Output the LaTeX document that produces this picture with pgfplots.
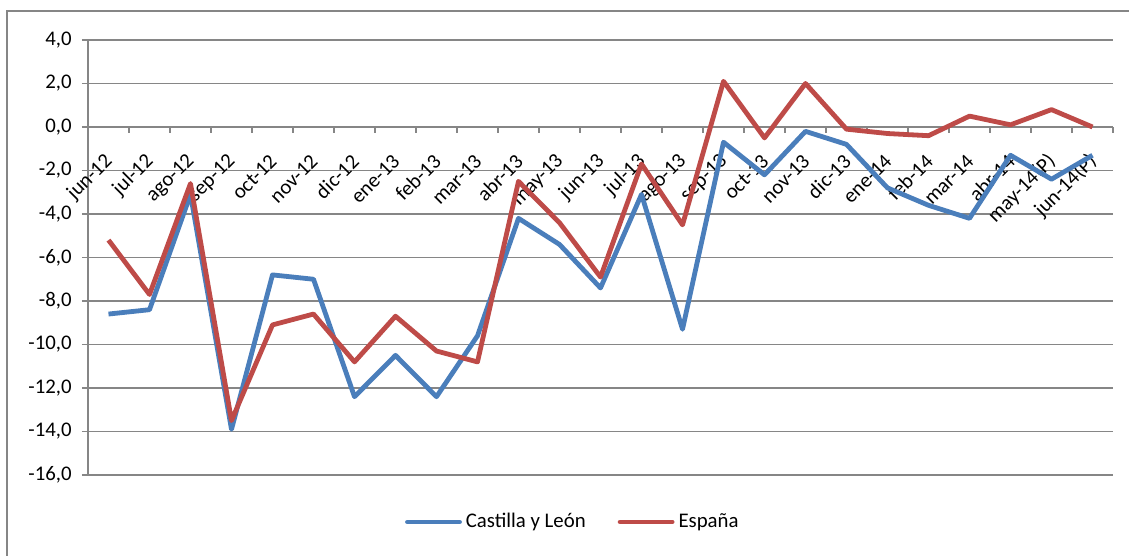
\documentclass[border=0pt]{standalone}
\usepackage{pgfplots}
\pgfplotsset{compat=1.18}
\usepackage{fontspec}
\setmainfont{Carlito}
\definecolor{cylblue}{RGB}{74,126,187}
\definecolor{espred}{RGB}{190,75,72}
\definecolor{gridgray}{RGB}{134,134,134}
\begin{document}
\begin{tikzpicture}
\path[use as bounding box] (0,0) rectangle (564.5pt,278pt);
\draw[gridgray, line width=0.65pt] (3.5pt,0pt) -- (3.5pt,272.5pt) -- (564.5pt,272.5pt);
\begin{axis}[
  at={(44pt,40.5pt)}, anchor=south west,
  scale only axis, width=512.5pt, height=217.5pt,
  xmin=-0.5, xmax=24.5, ymin=-16, ymax=4,
  axis x line=middle, axis y line=left,
  axis line style={-, gridgray, line width=0.7pt},
  xtick={0,...,24},
  xticklabels={jun-12,jul-12,ago-12,sep-12,oct-12,nov-12,dic-12,ene-13,feb-13,mar-13,abr-13,may-13,jun-13,jul-13,ago-13,sep-13,oct-13,nov-13,dic-13,ene-14,feb-14,mar-14,abr-14,may-14(P),jun-14(P)},
  minor xtick={0.5,1.5,...,24.5},
  major x tick style={draw=none},
  minor x tick style={gridgray, line width=0.7pt},
  xtick align=outside,
  minor tick length=3pt,
  ytick={-16,-14,...,4},
  ytick align=outside,
  major tick length=3pt,
  y tick style={gridgray, line width=0.7pt},
  ymajorgrids,
  grid style={gridgray, line width=0.7pt},
  tick label style={font=\fontsize{10.4}{12}\selectfont},
  /pgf/number format/assume math mode=true,
  /pgf/number format/.cd, fixed, fixed zerofill, precision=1, use comma,
  /pgfplots/.cd,
  yticklabel style={anchor=east, inner sep=0pt, xshift=-5pt},
  xticklabel style={inner sep=0pt, xshift=0.5pt, yshift=-12.5pt, rotate=45, anchor=east},
  legend style={at={(0.474,-0.108)}, anchor=center, draw=none, fill=none,
    legend columns=2, font=\fontsize{10.4}{12}\selectfont,
    /tikz/every even column/.append style={column sep=14pt}},
  legend cell align=left,
  legend image code/.code={\draw[#1, line cap=round] (0pt,0pt) -- (26pt,0pt);},
]
\addplot[cylblue, line width=2.4pt, line join=round] coordinates {
(0,-8.6) (1,-8.4) (2,-3.1) (3,-13.9) (4,-6.8) (5,-7.0) (6,-12.4) (7,-10.5) (8,-12.4) (9,-9.6)
(10,-4.2) (11,-5.4) (12,-7.4) (13,-3.1) (14,-9.3) (15,-0.7) (16,-2.2) (17,-0.2) (18,-0.8) (19,-2.8)
(20,-3.6) (21,-4.2) (22,-1.3) (23,-2.4) (24,-1.3)};
\addlegendentry{Castilla y León}
\addplot[espred, line width=2.4pt, line join=round] coordinates {
(0,-5.2) (1,-7.7) (2,-2.6) (3,-13.5) (4,-9.1) (5,-8.6) (6,-10.8) (7,-8.7) (8,-10.3) (9,-10.8)
(10,-2.5) (11,-4.4) (12,-6.9) (13,-1.7) (14,-4.5) (15,2.1) (16,-0.5) (17,2.0) (18,-0.1) (19,-0.3)
(20,-0.4) (21,0.5) (22,0.1) (23,0.8) (24,0.0)};
\addlegendentry{España}
\end{axis}
\end{tikzpicture}
\end{document}
